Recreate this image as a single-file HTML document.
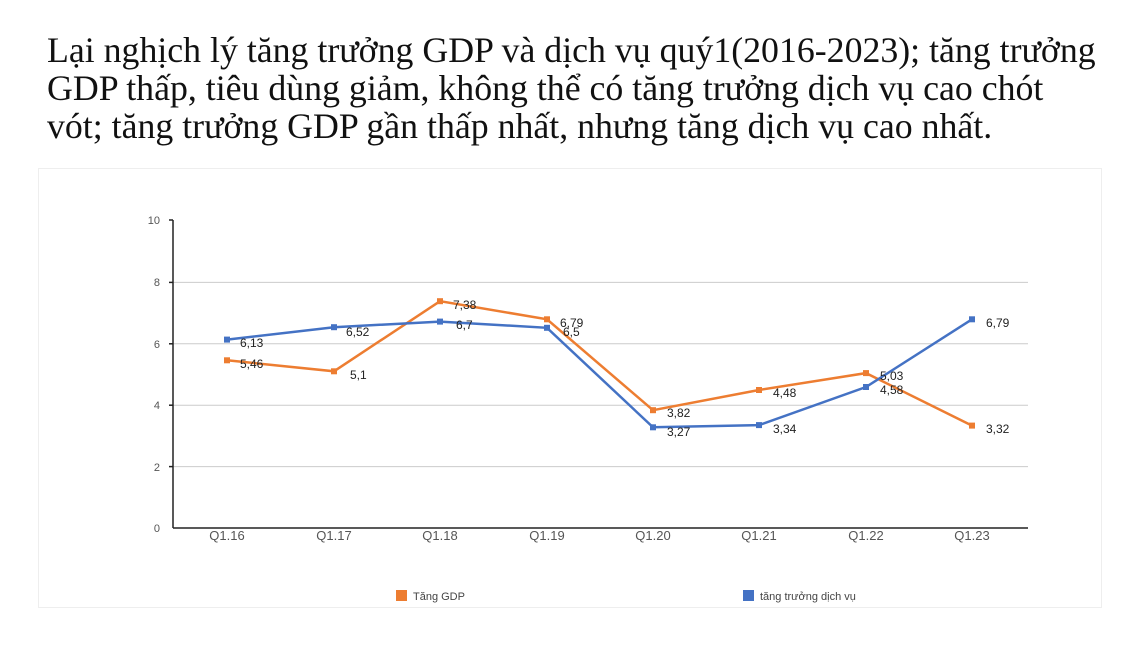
<!DOCTYPE html>
<html><head><meta charset="utf-8"><style>
body{margin:0;background:#fff;width:1140px;height:655px;overflow:hidden;position:relative}
.t{position:absolute;left:47px;top:31px;font-family:"Liberation Serif",serif;font-size:35.8px;line-height:38px;color:#111;white-space:nowrap}
.box{position:absolute;left:38px;top:168px;width:1062px;height:438px;border:1px solid #eee}
</style></head><body>
<div class="t">Lại nghịch lý tăng trưởng GDP và dịch vụ quý1(2016-2023); tăng trưởng<br>GDP thấp, tiêu dùng giảm, không thể có tăng trưởng dịch vụ cao chót<br>vót; tăng trưởng GDP gần thấp nhất, nhưng tăng dịch vụ cao nhất.</div>
<div class="box"></div>
<svg width="1140" height="655" style="position:absolute;left:0;top:0" font-family="Liberation Sans, sans-serif" font-size="12">
<g stroke="#ccc" stroke-width="1">
<line x1="173" y1="282.4" x2="1028" y2="282.4"/>
<line x1="173" y1="343.8" x2="1028" y2="343.8"/>
<line x1="173" y1="405.2" x2="1028" y2="405.2"/>
<line x1="173" y1="466.6" x2="1028" y2="466.6"/>
</g>
<g stroke="#222" stroke-width="1.5">
<line x1="173" y1="220" x2="173" y2="528"/>
<line x1="173" y1="528" x2="1028" y2="528"/>
<line x1="169" y1="220" x2="173" y2="220"/><line x1="169" y1="282.4" x2="173" y2="282.4"/><line x1="169" y1="343.8" x2="173" y2="343.8"/><line x1="169" y1="405.2" x2="173" y2="405.2"/><line x1="169" y1="466.6" x2="173" y2="466.6"/>
</g>
<g fill="#555" text-anchor="end" font-size="11">
<text x="160" y="224">10</text><text x="160" y="286">8</text><text x="160" y="348">6</text><text x="160" y="409">4</text><text x="160" y="471">2</text><text x="160" y="532">0</text>
</g>
<g fill="#555" text-anchor="middle" font-size="13">
<text x="227" y="540">Q1.16</text><text x="334" y="540">Q1.17</text><text x="440" y="540">Q1.18</text><text x="547" y="540">Q1.19</text><text x="653" y="540">Q1.20</text><text x="759" y="540">Q1.21</text><text x="866" y="540">Q1.22</text><text x="972" y="540">Q1.23</text>
</g>
<polyline fill="none" stroke="#ED7D31" stroke-width="2.5" points="227,360.3 334,371.3 440,301.2 547,319.3 653,410.2 759,390 866,373.1 972,425.6"/>
<polyline fill="none" stroke="#4472C4" stroke-width="2.5" points="227,339.6 334,327.2 440,321.6 547,327.8 653,427.3 759,425.1 866,387 972,319.3"/>
<g fill="#ED7D31"><rect x="224" y="357.3" width="6" height="6"/><rect x="331" y="368.3" width="6" height="6"/><rect x="437" y="298.2" width="6" height="6"/><rect x="544" y="316.3" width="6" height="6"/><rect x="650" y="407.2" width="6" height="6"/><rect x="756" y="387" width="6" height="6"/><rect x="863" y="370.1" width="6" height="6"/><rect x="969" y="422.6" width="6" height="6"/></g>
<g fill="#4472C4"><rect x="224" y="336.6" width="6" height="6"/><rect x="331" y="324.2" width="6" height="6"/><rect x="437" y="318.6" width="6" height="6"/><rect x="544" y="324.8" width="6" height="6"/><rect x="650" y="424.3" width="6" height="6"/><rect x="756" y="422.1" width="6" height="6"/><rect x="863" y="384" width="6" height="6"/><rect x="969" y="316.3" width="6" height="6"/></g>
<g fill="#222">
<text x="240" y="347">6,13</text><text x="240" y="368">5,46</text>
<text x="346" y="336">6,52</text><text x="350" y="379">5,1</text>
<text x="453" y="309">7,38</text><text x="456" y="329">6,7</text>
<text x="560" y="327">6,79</text><text x="563" y="336">6,5</text>
<text x="667" y="417">3,82</text><text x="667" y="436">3,27</text>
<text x="773" y="397">4,48</text><text x="773" y="433">3,34</text>
<text x="880" y="380">5,03</text><text x="880" y="394">4,58</text>
<text x="986" y="327">6,79</text><text x="986" y="433">3,32</text>
</g>
<rect x="396" y="590" width="11" height="11" fill="#ED7D31"/>
<text x="413" y="600" fill="#444" font-size="11">Tăng GDP</text>
<rect x="743" y="590" width="11" height="11" fill="#4472C4"/>
<text x="760" y="600" fill="#444" font-size="11">tăng trưởng dịch vụ</text>
</svg>
</body></html>
